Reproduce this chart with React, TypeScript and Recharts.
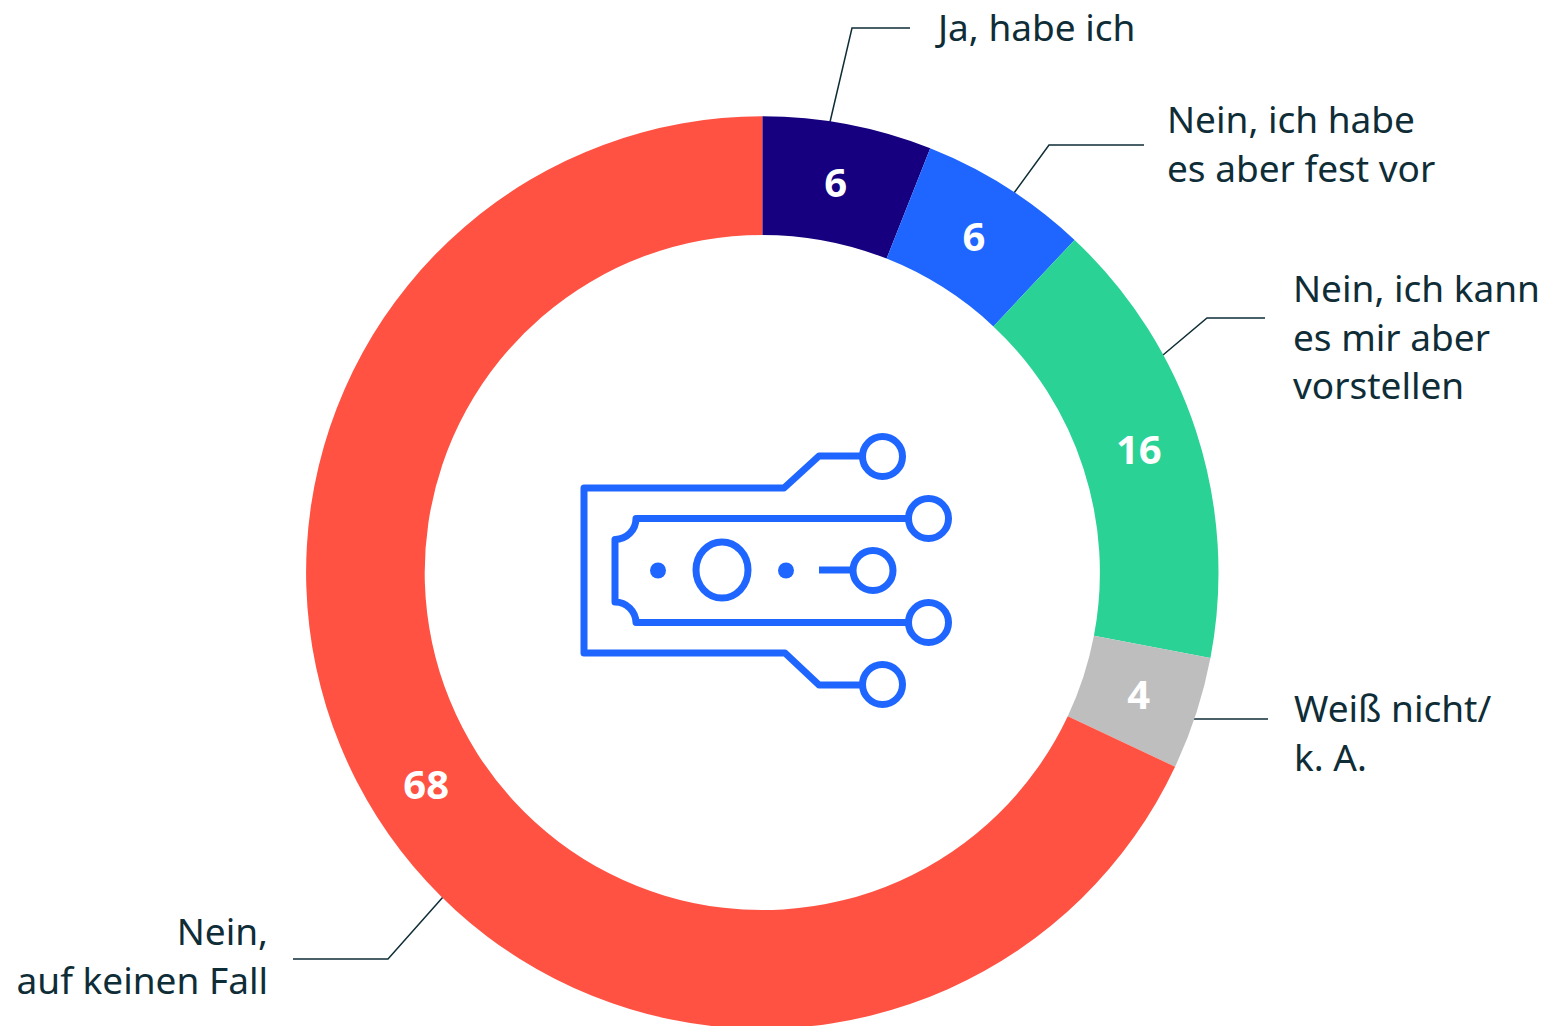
import { Cell, Pie, PieChart } from "recharts";

const categories = ["Ja, habe ich", "Nein, ich habe es aber fest vor", "Nein, ich kann es mir aber vorstellen", "Weiß nicht/ k. A.", "Nein, auf keinen Fall"];
const values = [6, 6, 16, 4, 68];
const colors = ["#16007f", "#1e66ff", "#2ad295", "#bebebe", "#ff5243"];
const rows = categories.map((name, i) => ({ name, value: values[i] }));

const FONT = "'Noto Sans', sans-serif";
const INK = "#0f2d37";
const ICON = "#1e66ff";
const RADIAN = Math.PI / 180;

// callout layout: text lines + leader line, in page pixels
const callouts = [
  { lines: ["Ja, habe ich"], x: 938, y: 41, anchor: "start", leader: "830,122 852,28 910,28" },
  { lines: ["Nein, ich habe", "es aber fest vor"], x: 1167, y: 133, anchor: "start", leader: "1014,193 1049,145 1144,145" },
  { lines: ["Nein, ich kann", "es mir aber", "vorstellen"], x: 1293, y: 302, anchor: "start", leader: "1163,355 1207,318 1265,318" },
  { lines: ["Weiß nicht/", "k. A."], x: 1294, y: 722, anchor: "start", leader: "1194,719 1268,719" },
  { lines: ["Nein,", "auf keinen Fall"], x: 268, y: 945, anchor: "end", leader: "443,897 388,959 293,959" },
];

function ValueLabel({ cx, cy, midAngle, innerRadius, outerRadius, value }: any) {
  const r = (innerRadius + outerRadius) / 2;
  const x = cx + r * Math.cos(-midAngle * RADIAN) - 1;
  const y = cy + r * Math.sin(-midAngle * RADIAN) - 1.5;
  return (
    <text x={x} y={y} fill="#fff" textAnchor="middle" dominantBaseline="central" fontFamily={FONT} fontSize={40} fontWeight={700}>
      {value}
    </text>
  );
}

function Callouts() {
  return (
    <g>
      {callouts.map((c) => (
        <g key={c.lines[0] + c.x}>
          <polyline points={c.leader} fill="none" stroke={INK} strokeWidth={1.5} />
          <text x={c.x} y={c.y} textAnchor={c.anchor as any} fill={INK} fontFamily={FONT} fontSize={37}>
            {c.lines.map((line, i) => (
              <tspan key={line} x={c.x} dy={i === 0 ? 0 : 48.5}>
                {line}
              </tspan>
            ))}
          </text>
        </g>
      ))}
    </g>
  );
}

function MoneyIcon() {
  const line = { fill: "none", stroke: ICON, strokeWidth: 7, strokeLinejoin: "round" as const };
  return (
    <g>
      <path {...line} d="M861 456 H819 L784 488 H584 V653 H785 L819 685 H861" />
      <path {...line} d="M907 518.5 H636 A21 21 0 0 1 615 539.5 V602 A21 21 0 0 1 636 622.5 H907" />
      <path {...line} d="M819 570 H851" />
      <circle {...line} cx={882.5} cy={456.5} r={20} />
      <circle {...line} cx={928.5} cy={518.5} r={20} />
      <circle {...line} cx={928.5} cy={622.5} r={20} />
      <circle {...line} cx={882.5} cy={684.5} r={20} />
      <circle {...line} cx={873} cy={570.5} r={20} />
      <ellipse {...line} cx={722} cy={570} rx={26} ry={28} />
      <circle cx={658} cy={570.5} r={8} fill={ICON} />
      <circle cx={786} cy={570.5} r={8} fill={ICON} />
    </g>
  );
}

export default function App() {
  return (
    <div style={{ position: "absolute", left: 0, top: 0, width: 1554, height: 1026, background: "#fff", overflow: "hidden" }}>
      <PieChart width={1554} height={1026} margin={{ top: 0, right: 0, bottom: 0, left: 0 }}>
        <Pie
          data={rows}
          dataKey="value"
          nameKey="name"
          cx={762.3}
          cy={572.5}
          innerRadius={337.6}
          outerRadius={456.2}
          startAngle={90}
          endAngle={-270}
          stroke="none"
          labelLine={false}
          label={ValueLabel}
          isAnimationActive={false}
        >
          {rows.map((r, i) => (
            <Cell key={r.name} fill={colors[i]} />
          ))}
        </Pie>
        <Callouts />
        <MoneyIcon />
      </PieChart>
    </div>
  );
}
